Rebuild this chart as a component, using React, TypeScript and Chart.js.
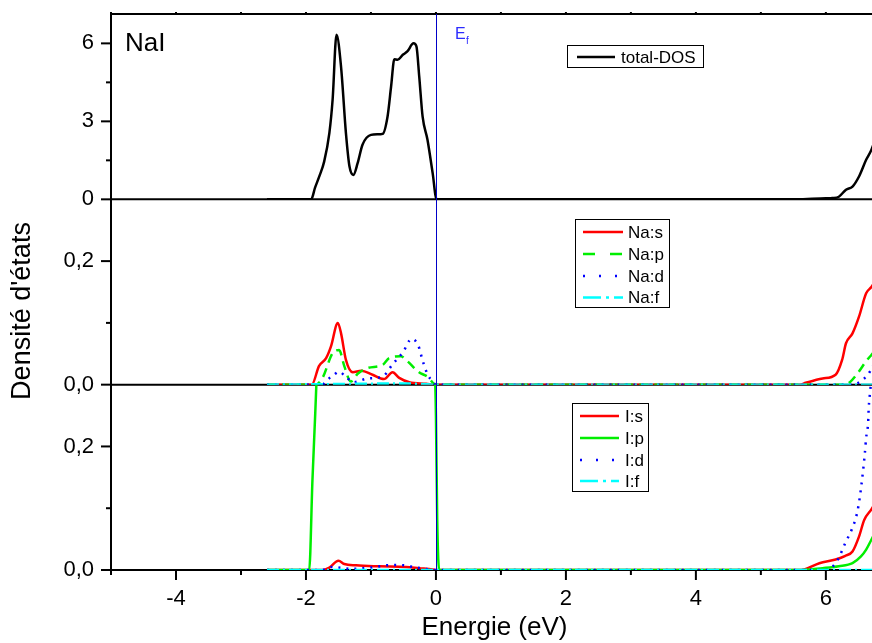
import React, { useEffect, useRef } from 'react';
import { Chart, registerables } from 'chart.js';

Chart.register(...registerables);

// ---------------- data ----------------
const xTickValues = [-4, -2, 0, 2, 4, 6];
const xMinorValues = [-5, -3, -1, 1, 3, 5];
const totalTicks = [0, 3, 6];
const totalMinor = [1.5, 4.5];
const pdosTicks = [0, 0.2];
const pdosMinor = [0.1];

const totalE = [-2.6, -1.92, -1.86, -1.795, -1.72, -1.64, -1.59, -1.53, -1.46, -1.385, -1.33, -1.27, -1.205, -1.13, -1.0, -0.9, -0.82, -0.745, -0.69, -0.64, -0.59, -0.51, -0.44, -0.345, -0.3, -0.257, -0.205, -0.13, -0.05, 0.01, 0.1, 5.5, 5.79, 6.0, 6.1, 6.2, 6.31, 6.41, 6.51, 6.62, 6.7, 6.8];
const totalDOS = [0, 0, 0.45, 0.88, 1.45, 2.55, 3.83, 6.33, 5.1, 2.55, 1.26, 0.94, 1.39, 2.1, 2.48, 2.5, 2.52, 3.18, 4.34, 5.39, 5.37, 5.56, 5.69, 6.0, 5.88, 4.72, 3.18, 2.29, 1.0, 0, 0, 0, 0.02, 0.04, 0.05, 0.1, 0.37, 0.49, 0.88, 1.52, 1.9, 2.6];

const naSE = [-2.6, -1.91, -1.8, -1.69, -1.615, -1.51, -1.46, -1.385, -1.28, -1.15, -0.975, -0.8, -0.667, -0.565, -0.41, -0.15, 0, 5.6, 5.69, 5.95, 6.15, 6.25, 6.31, 6.41, 6.51, 6.62, 6.7, 6.8];
const naS = [0, 0, 0.03, 0.043, 0.062, 0.1, 0.083, 0.04, 0.02, 0.0225, 0.016, 0.009, 0.02, 0.011, 0.004, 0.0015, 0, 0, 0.003, 0.01, 0.016, 0.04, 0.067, 0.083, 0.11, 0.148, 0.158, 0.175];

const naPE = [-2.6, -1.85, -1.745, -1.59, -1.49, -1.41, -1.31, -1.2, -1.05, -0.82, -0.72, -0.54, -0.44, -0.26, -0.13, 0, 6.3, 6.38, 6.5, 6.62, 6.7, 6.8];
const naP = [0, 0, 0.011, 0.051, 0.056, 0.03, 0.005, 0.018, 0.027, 0.032, 0.043, 0.046, 0.038, 0.02, 0.013, 0, 0, 0.005, 0.02, 0.038, 0.048, 0.06];

const naDE = [-2.6, -1.75, -1.67, -1.58, -1.49, -1.38, -1.27, -1.05, -0.82, -0.667, -0.51, -0.375, -0.27, -0.205, -0.13, -0.05, 0, 6.4, 6.58, 6.7, 6.8];
const naD = [0, 0, 0.008, 0.015, 0.021, 0.012, 0.004, 0.01, 0.013, 0.033, 0.052, 0.074, 0.063, 0.039, 0.017, 0.005, 0, 0, 0.009, 0.025, 0.05];

const naFE = [-2.6, -1.5, -0.5, 0, 6.8];
const naF = [0, 0.001, 0.002, 0, 0];

const iSE = [-2.6, -1.75, -1.64, -1.5, -1.41, -1.23, -0.87, -0.46, -0.257, -0.05, 0, 5.6, 5.67, 5.9, 6.15, 6.3, 6.41, 6.51, 6.59, 6.7, 6.8];
const iS = [0, 0, 0.004, 0.015, 0.0097, 0.0075, 0.006, 0.005, 0.003, 0.001, 0, 0, 0.001, 0.011, 0.017, 0.023, 0.03, 0.054, 0.081, 0.098, 0.115];

const iPE = [-2.6, -1.95, -1.9, -1.857, -1.84, -1.8, -1.72, -1.64, -1.59, -1.53, -1.46, -1.39, -1.33, -1.27, -1.2, -1.13, -1.0, -0.82, -0.75, -0.69, -0.64, -0.51, -0.35, -0.26, -0.2, -0.13, -0.05, 0.0, 0.02, 0.05, 0.1, 5.6, 5.95, 6.2, 6.41, 6.54, 6.62, 6.7, 6.8];
const iP = [0, 0, 0.146, 0.254, 0.3, 0.4, 0.65, 1.1, 1.7, 2.9, 2.3, 1.15, 0.6, 0.45, 0.65, 0.95, 1.1, 1.15, 1.45, 1.95, 2.4, 2.5, 2.7, 2.1, 1.4, 1.0, 0.45, 0.25, 0.08, 0, 0, 0, 0.003, 0.006, 0.011, 0.022, 0.033, 0.049, 0.07];

const iDE = [-2.6, -1.75, -1.6, -1.3, -1.0, -0.7, -0.55, -0.3, 0, 6.0, 6.1, 6.2, 6.3, 6.4, 6.48, 6.52, 6.55, 6.575, 6.6, 6.62, 6.65, 6.66, 6.68, 6.72, 6.8];
const iD = [0, 0, 0.005, 0.002, 0.004, 0.008, 0.008, 0.004, 0, 0, 0.005, 0.02, 0.044, 0.066, 0.092, 0.116, 0.14, 0.163, 0.189, 0.214, 0.238, 0.263, 0.287, 0.33, 0.4];

const iFE = [-2.6, 6.8];
const iF = [0, 0];

// ---------------- helpers ----------------
const FONT = '"Liberation Sans", Arial, sans-serif';
const pts = (xs: number[], ys: number[]) => xs.map((x, i) => ({ x, y: ys[i] }));

const RED = '#ff0000';
const GREEN = '#00ee00';
const BLUE = '#0000ff';
const CYAN = '#00ffff';

const DASH_P = [9, 6];
const DOT = [2, 6];
const DASH_DOT = [12, 4, 2, 4];

function ds(label: string, xs: number[], ys: number[], axis: string, color: string, dash: number[], order: number) {
  return {
    label,
    data: pts(xs, ys),
    yAxisID: axis,
    borderColor: color,
    backgroundColor: color,
    borderWidth: 2.5,
    borderDash: dash,
    pointRadius: 0,
    fill: false,
    cubicInterpolationMode: 'monotone',
    order,
  };
}

function line(ctx: CanvasRenderingContext2D, x1: number, y1: number, x2: number, y2: number) {
  ctx.beginPath();
  ctx.moveTo(x1, y1);
  ctx.lineTo(x2, y2);
  ctx.stroke();
}

const clipPlugin = {
  id: 'panelClip',
  beforeDatasetDraw(chart: any, args: any) {
    const s = chart.scales[args.meta.yAxisID];
    const a = chart.chartArea;
    const ctx = chart.ctx;
    ctx.save();
    ctx.beginPath();
    ctx.rect(a.left, s.top, a.right - a.left, s.bottom - s.top + 2);
    ctx.clip();
  },
  afterDatasetDraw(chart: any) {
    chart.ctx.restore();
  },
};

type LegItem = { label: string; color: string; dash: number[] };

function drawLegend(ctx: CanvasRenderingContext2D, box: number[], rows: number[], x1: number, x2: number, tx: number, items: LegItem[]) {
  ctx.save();
  ctx.fillStyle = '#fff';
  ctx.fillRect(box[0], box[1], box[2], box[3]);
  ctx.strokeStyle = '#000';
  ctx.lineWidth = 1;
  ctx.setLineDash([]);
  ctx.strokeRect(box[0] + 0.5, box[1] + 0.5, box[2], box[3]);
  items.forEach((it, i) => {
    ctx.strokeStyle = it.color;
    ctx.lineWidth = 2.5;
    ctx.setLineDash(it.dash);
    line(ctx, x1, rows[i], x2, rows[i]);
    ctx.setLineDash([]);
    ctx.fillStyle = '#000';
    ctx.font = `17px ${FONT}`;
    ctx.textAlign = 'left';
    ctx.textBaseline = 'middle';
    ctx.fillText(it.label, tx, rows[i] + 1);
  });
  ctx.restore();
}

const decorPlugin = {
  id: 'decor',
  beforeDatasetsDraw(chart: any) {
    const { ctx, chartArea: a, scales } = chart;
    ctx.save();
    ctx.strokeStyle = '#000';
    ctx.lineWidth = 2;
    line(ctx, a.left, a.top, a.left, a.bottom + 1);
    line(ctx, a.left - 1, a.top, a.right, a.top);
    ['yT', 'yNa', 'yI'].forEach((id) => {
      const s = scales[id];
      line(ctx, a.left, s.bottom, a.right, s.bottom);
    });
    ctx.restore();
  },
  afterDatasetsDraw(chart: any) {
    const { ctx, chartArea: a, scales } = chart;
    ctx.save();
    ctx.strokeStyle = '#0000c8';
    ctx.lineWidth = 1;
    const x0 = Math.round(scales.x.getPixelForValue(0)) + 0.5;
    line(ctx, x0, a.top, x0, a.bottom);
    ctx.restore();
  },
  afterDraw(chart: any) {
    const { ctx, chartArea: a, scales } = chart;
    ctx.save();
    ctx.strokeStyle = '#000';
    ctx.lineWidth = 2;
    // y ticks
    const yDefs: [string, number[], number[]][] = [
      ['yT', totalTicks, totalMinor],
      ['yNa', pdosTicks, pdosMinor],
      ['yI', pdosTicks, pdosMinor],
    ];
    yDefs.forEach(([id, maj, min]) => {
      const s = scales[id];
      maj.forEach((v) => { const y = s.getPixelForValue(v); line(ctx, a.left - 10, y, a.left, y); });
      min.forEach((v) => { const y = s.getPixelForValue(v); line(ctx, a.left - 5, y, a.left, y); });
    });
    // x ticks
    xTickValues.forEach((v) => { const x = scales.x.getPixelForValue(v); line(ctx, x, a.bottom, x, a.bottom + 10); });
    xMinorValues.forEach((v) => { const x = scales.x.getPixelForValue(v); line(ctx, x, a.bottom, x, a.bottom + 5); });
    // small ticks on top border
    [...xTickValues, ...xMinorValues].forEach((v) => {
      const x = scales.x.getPixelForValue(v);
      line(ctx, x, a.top - 2, x, a.top);
    });

    // titles
    ctx.fillStyle = '#000';
    ctx.textAlign = 'center';
    ctx.textBaseline = 'middle';
    ctx.font = `26px ${FONT}`;
    ctx.fillText('Energie (eV)', (a.left + a.right) / 2 + 3, 628);
    ctx.save();
    ctx.translate(23, 311);
    ctx.rotate(-Math.PI / 2);
    ctx.font = `27px ${FONT}`;
    ctx.fillText("Densité d'états", 0, 0);
    ctx.restore();

    ctx.textAlign = 'left';
    ctx.font = `26px ${FONT}`;
    ctx.fillText('NaI', 125, 44);

    ctx.fillStyle = '#2b2bff';
    ctx.textBaseline = 'alphabetic';
    ctx.font = `16px ${FONT}`;
    ctx.fillText('E', 455, 38.5);
    ctx.font = `10px ${FONT}`;
    ctx.fillText('f', 466, 44);
    ctx.restore();

    drawLegend(ctx, [567, 45, 136, 22], [57], 577, 615, 621, [
      { label: 'total-DOS', color: '#000', dash: [] },
    ]);
    drawLegend(ctx, [575, 219, 94, 88], [232, 254, 276, 297.5], 583, 623, 628, [
      { label: 'Na:s', color: RED, dash: [] },
      { label: 'Na:p', color: GREEN, dash: [12, 15] },
      { label: 'Na:d', color: BLUE, dash: [2, 14] },
      { label: 'Na:f', color: CYAN, dash: [18, 5, 3, 5] },
    ]);
    drawLegend(ctx, [572, 403, 76, 88], [416, 438, 460, 481], 580, 619, 625, [
      { label: 'I:s', color: RED, dash: [] },
      { label: 'I:p', color: GREEN, dash: [] },
      { label: 'I:d', color: BLUE, dash: [2, 14] },
      { label: 'I:f', color: CYAN, dash: [18, 5, 3, 5] },
    ]);
  },
};

function yAxis(min: number, max: number, ticks: number[], fmt: (v: number) => string) {
  return {
    type: 'linear',
    position: 'left',
    stack: 'dos',
    stackWeight: 1,
    min,
    max,
    grid: { display: false, drawTicks: false },
    border: { display: false },
    ticks: {
      color: '#000',
      font: { size: 22, family: FONT },
      padding: 17,
      callback: (v: number) => fmt(v),
    },
    afterBuildTicks: (s: any) => { s.ticks = ticks.map((v) => ({ value: v })); },
    afterFit: (s: any) => { s.width = 111; s.paddingTop = 0; s.paddingBottom = 0; },
  };
}

export default function App() {
  const ref = useRef<HTMLCanvasElement>(null);

  useEffect(() => {
    if (!ref.current) return;
    const chart = new Chart(ref.current, {
      type: 'line',
      data: {
        datasets: [
          ds('total-DOS', totalE, totalDOS, 'yT', '#000', [], 0),
          ds('Na:s', naSE, naS, 'yNa', RED, [], 4),
          ds('Na:p', naPE, naP, 'yNa', GREEN, DASH_P, 3),
          ds('Na:d', naDE, naD, 'yNa', BLUE, DOT, 2),
          ds('Na:f', naFE, naF, 'yNa', CYAN, DASH_DOT, 1),
          ds('I:s', iSE, iS, 'yI', RED, [], 4),
          ds('I:p', iPE, iP, 'yI', GREEN, [], 3),
          ds('I:d', iDE, iD, 'yI', BLUE, DOT, 2),
          ds('I:f', iFE, iF, 'yI', CYAN, DASH_DOT, 1),
        ] as any,
      },
      options: {
        responsive: false,
        animation: false,
        devicePixelRatio: 1,
        layout: { padding: { top: 14, left: 0, right: 0, bottom: 0 } },
        plugins: { legend: { display: false }, tooltip: { enabled: false }, title: { display: false } },
        scales: {
          x: {
            type: 'linear',
            position: 'bottom',
            min: -5,
            max: 6.71,
            grid: { display: false, drawTicks: false },
            border: { display: false },
            ticks: {
              color: '#000',
              font: { size: 22, family: FONT },
              padding: 16,
              maxRotation: 0,
              callback: (v: number) => String(v),
            },
            afterBuildTicks: (s: any) => { s.ticks = xTickValues.map((v) => ({ value: v })); },
            afterFit: (s: any) => { s.height = 73; s.paddingLeft = 0; s.paddingRight = 0; },
          },
          // stacked axes: the last one listed is placed on top
          yI: yAxis(0, 0.3, pdosTicks, (v) => v.toFixed(1).replace('.', ',')),
          yNa: yAxis(0, 0.3, pdosTicks, (v) => v.toFixed(1).replace('.', ',')),
          yT: yAxis(0, 7.13, totalTicks, (v) => String(v)),
        } as any,
      },
      plugins: [clipPlugin, decorPlugin],
    });
    return () => chart.destroy();
  }, []);

  return (
    <div style={{ position: 'fixed', left: 0, top: 0, width: 872, height: 643, background: '#fff' }}>
      <canvas ref={ref} width={872} height={643} style={{ display: 'block' }} />
    </div>
  );
}
